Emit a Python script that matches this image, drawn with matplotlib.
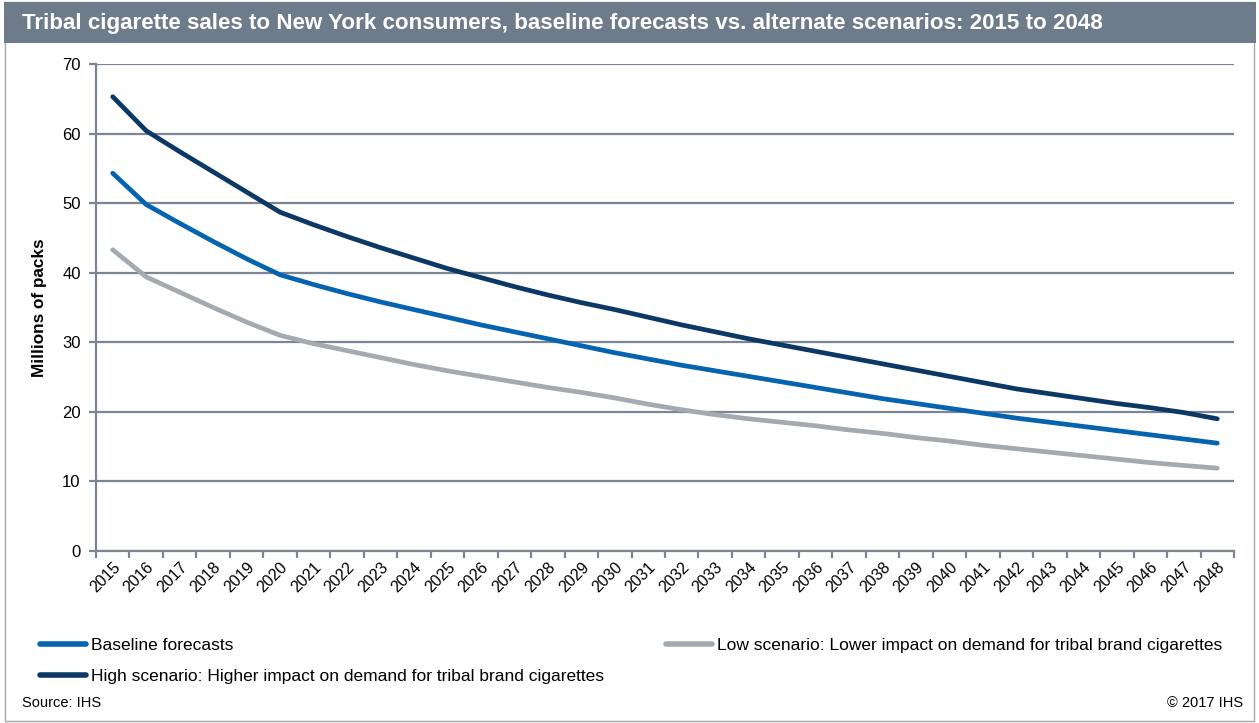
import matplotlib
matplotlib.use("Agg")
import matplotlib.pyplot as plt
from matplotlib.patches import Rectangle
from matplotlib.lines import Line2D

plt.rcParams['font.family'] = ['Liberation Sans', 'DejaVu Sans']

years = [str(y) for y in range(2015, 2049)]

baseline = [54.3, 49.8, 47.1, 44.5, 42.0, 39.7, 38.3, 37.0, 35.8, 34.7,
            33.6, 32.5, 31.5, 30.5, 29.5, 28.5, 27.6, 26.7, 25.9, 25.1,
            24.3, 23.5, 22.7, 21.9, 21.2, 20.5, 19.8, 19.1, 18.5, 17.9,
            17.3, 16.7, 16.1, 15.5]

high = [65.3, 60.4, 57.4, 54.5, 51.6, 48.7, 46.9, 45.2, 43.6, 42.1,
        40.6, 39.3, 38.0, 36.8, 35.7, 34.7, 33.6, 32.5, 31.5, 30.5,
        29.6, 28.7, 27.8, 26.9, 26.0, 25.1, 24.2, 23.3, 22.6, 21.9,
        21.2, 20.6, 19.9, 19.0]

low = [43.3, 39.4, 37.2, 35.0, 32.9, 31.0, 29.8, 28.8, 27.8, 26.8,
       25.9, 25.1, 24.3, 23.5, 22.8, 22.0, 21.1, 20.3, 19.6, 19.0,
       18.5, 18.0, 17.4, 16.9, 16.3, 15.8, 15.2, 14.7, 14.2, 13.7,
       13.2, 12.7, 12.3, 11.9]

y_ticks = [0, 10, 20, 30, 40, 50, 60, 70]

title = "Tribal cigarette sales to New York consumers, baseline forecasts vs. alternate scenarios: 2015 to 2048"
label_base = "Baseline forecasts"
label_high = "High scenario: Higher impact on demand for tribal brand cigarettes"
label_low = "Low scenario: Lower impact on demand for tribal brand cigarettes"

c_base = "#0563B0"
c_high = "#0C3866"
c_low = "#A3ABB0"
c_grid = "#7B8595"
c_bar = "#6E7B8B"

W, H = 1259, 723
fig = plt.figure(figsize=(W / 100, H / 100), dpi=100)

# outer frame and title band
fig.patches.append(Rectangle((5 / W, 2 / H), 1249 / W, 719 / H, transform=fig.transFigure,
                             facecolor="none", edgecolor="#A8A8A8", lw=1.0, zorder=-1))
fig.patches.append(Rectangle((4 / W, 1 - 43 / H), 1252 / W, 41 / H, transform=fig.transFigure,
                             facecolor=c_bar, edgecolor="none", zorder=-1))
fig.text(22 / W, 1 - 23 / H, title, color="white", fontsize=16.1, fontweight="bold",
         ha="left", va="center")

ax = fig.add_axes([96 / W, 1 - 551 / H, (1234 - 96) / W, (551 - 64) / H])
x = list(range(len(years)))

ax.plot(x, baseline, color=c_base, lw=3.4, solid_capstyle="round", solid_joinstyle="round", zorder=3)
ax.plot(x, low, color=c_low, lw=3.4, solid_capstyle="round", solid_joinstyle="round", zorder=3)
ax.plot(x, high, color=c_high, lw=3.4, solid_capstyle="round", solid_joinstyle="round", zorder=3)

ax.set_xlim(-0.5, len(years) - 0.5)
ax.set_ylim(0, 70)
ax.set_yticks(y_ticks)
ax.yaxis.grid(True, color=c_grid, lw=1.6)
ax.set_axisbelow(True)

ax.set_xticks([i - 0.5 for i in range(len(years) + 1)])
ax.set_xticklabels([])
ax.set_xticks(x, minor=True)
ax.set_xticklabels(years, minor=True, rotation=45, ha="right", rotation_mode="anchor", fontsize=11.5)
ax.tick_params(axis="x", which="minor", length=0, pad=6)
ax.tick_params(axis="x", which="major", length=5, width=1.6, color=c_grid, direction="out")
ax.tick_params(axis="y", length=5, width=1.6, color=c_grid, labelsize=12, pad=6)

for s in ["top", "right"]:
    ax.spines[s].set_visible(False)
for s in ["left", "bottom"]:
    ax.spines[s].set_color(c_grid)
    ax.spines[s].set_linewidth(1.6)

ax.set_ylabel("Millions of packs", fontsize=12.3, fontweight="bold", labelpad=11)

# legend blocks
h_base = Line2D([], [], color=c_base, lw=4, solid_capstyle="round")
h_high = Line2D([], [], color=c_high, lw=4, solid_capstyle="round")
h_low = Line2D([], [], color=c_low, lw=4, solid_capstyle="round")

leg_kw = dict(frameon=False, loc="upper left", fontsize=12.5, handlelength=2.65,
              handletextpad=0.3, borderpad=0, borderaxespad=0, labelspacing=0.9)
fig.legend([h_base, h_high], [label_base, label_high],
           bbox_to_anchor=(39.5 / W, 1 - 638 / H), **leg_kw)
fig.legend([h_low], [label_low], bbox_to_anchor=(665.5 / W, 1 - 638 / H), **leg_kw)

fig.text(22 / W, 1 - 703 / H, "Source: IHS", fontsize=10.5, ha="left", va="center")
fig.text(1243 / W, 1 - 703 / H, "\u00a9 2017 IHS", fontsize=10.5, ha="right", va="center")

fig.savefig("out.png", dpi=100)
